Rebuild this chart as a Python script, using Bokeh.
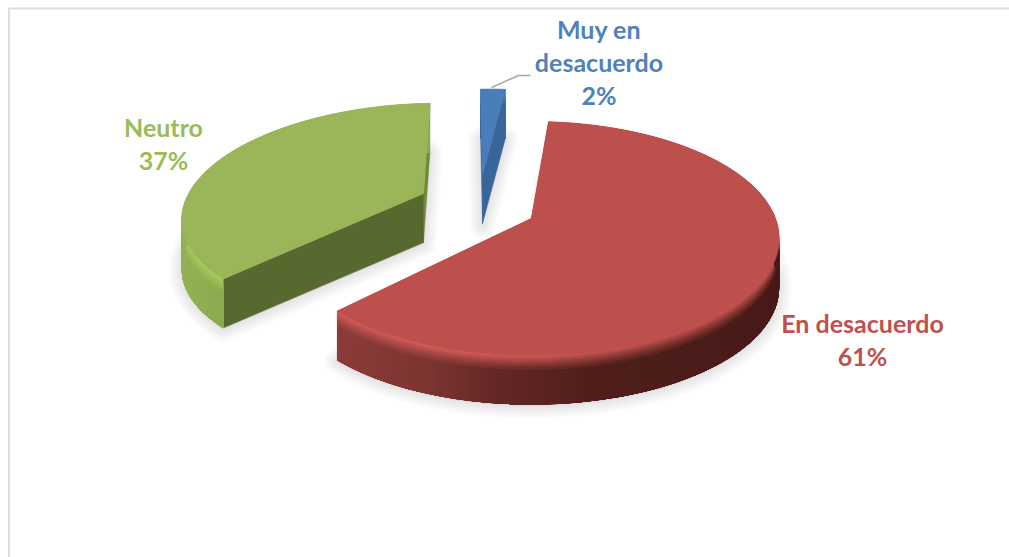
import numpy as np
from bokeh.plotting import figure
from bokeh.embed import file_html
from bokeh.resources import INLINE
from bokeh.core.properties import value

# Survey answers, in drawing order around the pie
categories = ["Muy en desacuerdo", "En desacuerdo", "Neutro"]
shares = [2, 61, 37]
label_lines = [["Muy en", "desacuerdo"], ["En desacuerdo"], ["Neutro"]]
label_x = [598.5, 862, 163]
label_y = [28, 322, 126]
label_step = 33
text_colors = ["#4f81bd", "#c0504d", "#9bbb59"]

# Appearance of each slice
top_colors = ["#4a7ebb", "#bd4f4c", "#9ab658"]
cut_colors = ["#38659a", "#8a3a38", "#58692f"]
far_cut_colors = ["#38659a", "#8a3a38", "#6f8a3c"]
edge_colors = ["#5f92cf", "#d25b57", "#a8cb60"]
# Rim colour stops: screen x -> colour
rim_stops = [
    [(470, "#38659a"), (520, "#38659a")],
    [(335, "#8c3c39"), (430, "#7d3532"), (500, "#642826"), (590, "#501f1c"), (780, "#481a17")],
    [(180, "#93b254"), (235, "#8aa84e")],
]
# Offset of each slice from the pie centre, in the pie's own plane
explode = [(-0.215, -0.414), (0.0, 0.0), (-0.46, -0.228)]

# Projection of the tilted pie onto the page
CX, CY, RX, RY, PERSP = 531.0, 218.0, 244.0, 113.6, 0.171
DEPTH = 49.0
START_DEG = -2.5  # clockwise from straight up, where the first slice begins


def project(u, v):
    s = 1.0 / (1.0 - PERSP * v)
    return CX + RX * u * s, CY + RY * v * s


def hex_rgb(c):
    return np.array([int(c[i:i + 2], 16) for i in (1, 3, 5)], dtype=float)


def mix(a, b, t):
    m = hex_rgb(a) * (1 - t) + hex_rgb(b) * t
    return "#%02x%02x%02x" % tuple(int(round(x)) for x in m)


def rim_color(stops, x):
    xs = [s[0] for s in stops]
    idx = int(np.clip(np.searchsorted(xs, x) - 1, 0, len(xs) - 2))
    t = float(np.clip((x - xs[idx]) / (xs[idx + 1] - xs[idx]), 0, 1))
    return mix(stops[idx][1], stops[idx + 1][1], t)


# Turn the shares into slice outlines
slices = []
cursor = START_DEG
for i, share in enumerate(shares):
    sweep = share / sum(shares) * 360.0
    ang = np.radians(np.linspace(cursor, cursor + sweep, max(6, int(sweep))))
    du, dv = explode[i]
    ax, ay = project(np.sin(ang) + du, -np.cos(ang) + dv)
    px, py = project(du, dv)
    slices.append(dict(ax=ax, ay=ay, px=float(px), py=float(py)))
    cursor += sweep

p = figure(width=1009, height=557, x_range=(0, 1009), y_range=(557, 0),
           output_backend="svg", toolbar_location=None, min_border=0,
           outline_line_color=None, background_fill_color="white",
           border_fill_color="white")
p.axis.visible = False
p.grid.visible = False

# Chart area border, open at the bottom and right of the page
p.line([8.5, 8.5, 1009], [557, 8, 8], line_color="#dedede", line_width=2)

# Soft cast shadows: the same outline stroked wider and wider at low opacity
for i in [2, 0, 1]:
    s = slices[i]
    sx = np.r_[s["px"], s["ax"]]
    sy = np.r_[s["py"], s["ay"]] + DEPTH + 1
    for w in range(2, 28, 3):
        p.patch(sx, sy, fill_color="#808080", fill_alpha=0.02,
                line_color="#808080", line_alpha=0.028, line_width=w, line_join="round")


def draw_slice(i):
    s = slices[i]
    ax, ay, px, py = s["ax"], s["ay"], s["px"], s["py"]

    # Flat cut faces left by pulling the slice out of the pie
    p.patch([px, ax[-1], ax[-1], px], [py, ay[-1], ay[-1] + DEPTH, py + DEPTH],
            fill_color=far_cut_colors[i], line_color=far_cut_colors[i], line_width=0.5)
    p.patch([px, ax[0], ax[0], px], [py, ay[0], ay[0] + DEPTH, py + DEPTH],
            fill_color=cut_colors[i], line_color=cut_colors[i], line_width=0.5)

    # Outer rim, shaded along its length and bevelled along its upper edge.
    # Each cell overlaps its neighbours so that no seams show between them.
    rows = [0.0, 0.04, 0.08, 0.12, 0.16, 0.2, 0.25, 0.3]
    n = len(ax)
    order = np.argsort(0.5 * (ax[:-1] + ax[1:]))
    xs, ys, cols = [], [], []
    for r in range(len(rows)):
        t0 = rows[r] * DEPTH
        for k in order:
            j = min(k + 2, n - 1)
            l = max(k - 1, 0)
            base = rim_color(rim_stops[i], 0.5 * (ax[k] + ax[k + 1]))
            frac = r / (len(rows) - 1)
            # the bevel fades out towards the dark side of the rim
            dim = 0.0 if i != 1 else float(np.clip((ax[k] - 470) / 200, 0, 1))
            glow = mix(edge_colors[i], top_colors[i], dim)
            xs.append([ax[l], ax[j], ax[j], ax[l]])
            ys.append([ay[l] + t0, ay[j] + t0, ay[j] + DEPTH, ay[l] + DEPTH])
            cols.append(mix(glow, base, frac))
    p.patches(xs, ys, fill_color=cols, line_color=None)

    # Top face
    p.patch(np.r_[px, ax], np.r_[py, ay], fill_color=top_colors[i],
            line_color=top_colors[i], line_width=0.8, line_join="round")


for i in [2, 0, 1]:
    draw_slice(i)

# Leader line of the small slice
p.line([491, 518, 530], [87, 75, 75], line_color="#a6a6a6", line_width=1.5)

# Data labels
for i, lines in enumerate(label_lines):
    rows = lines + [f"{shares[i]}%"]
    p.text(x=[label_x[i]] * len(rows),
           y=[label_y[i] + n * label_step for n in range(len(rows))],
           text=rows, text_font=value("Lato"), text_font_style="bold",
           text_font_size="25px", text_color=text_colors[i],
           text_align="center", text_baseline="middle")

open("out.html", "w").write(file_html(p, INLINE))
